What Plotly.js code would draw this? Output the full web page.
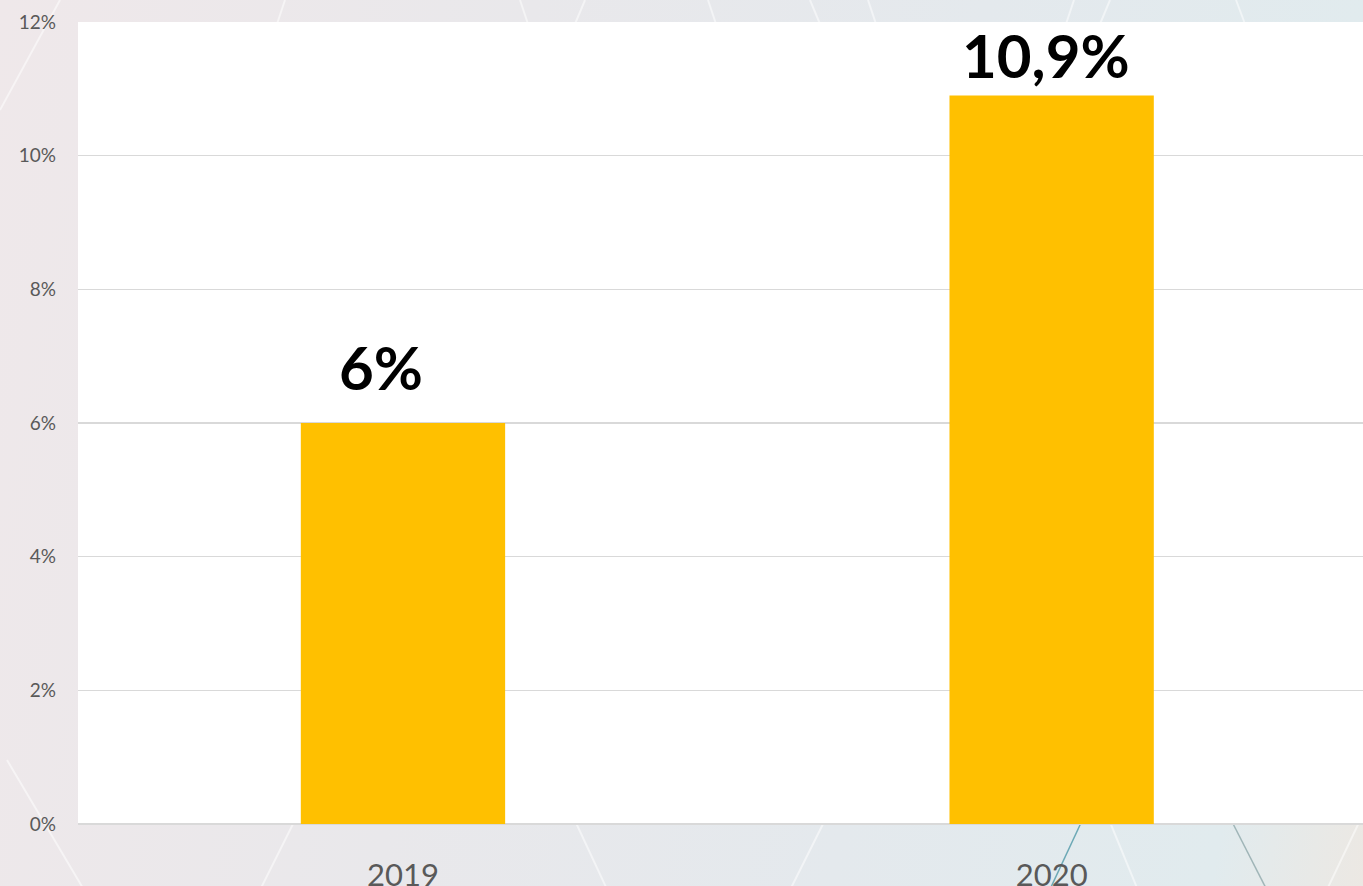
<!DOCTYPE html>
<html>
<head>
<meta charset="utf-8">
<script src="https://cdn.plot.ly/plotly-3.0.1.min.js"></script>
<style>
html,body{margin:0;padding:0;overflow:hidden;}
body{width:1363px;height:886px;position:relative;
background:linear-gradient(100deg,#efe8ea 0%,#e9e8eb 35%,#e4e9ed 65%,#e1ebee 90%,#ece8e3 100%);}
#bg{position:absolute;left:0;top:0;}
#chart{position:absolute;left:0;top:0;width:1363px;height:886px;}
</style>
</head>
<body>
<svg id="bg" width="1363" height="886" xmlns="http://www.w3.org/2000/svg">
  <g stroke="#ffffff" stroke-opacity="0.5" stroke-width="2" fill="none">
    <line x1="60" y1="0" x2="0" y2="110"/>
    <line x1="7" y1="760" x2="90" y2="900"/>
    <line x1="300" y1="810" x2="255" y2="900"/>
    <line x1="570" y1="810" x2="612" y2="900"/>
    <line x1="830" y1="810" x2="785" y2="900"/>
    <line x1="1105" y1="810" x2="1142" y2="900"/>
    <line x1="1365" y1="810" x2="1322" y2="900"/>
    <line x1="285" y1="0" x2="277" y2="24"/>
    <line x1="520" y1="0" x2="528" y2="24"/>
    <line x1="585" y1="0" x2="575" y2="24"/>
    <line x1="708" y1="0" x2="716" y2="24"/>
    <line x1="810" y1="0" x2="820" y2="24"/>
    <line x1="868" y1="0" x2="876" y2="24"/>
    <line x1="1074" y1="0" x2="1066" y2="24"/>
    <line x1="1110" y1="0" x2="1100" y2="24"/>
    <line x1="1236" y1="0" x2="1245" y2="24"/>
  </g>
  <line x1="1087" y1="810" x2="1045" y2="900" stroke="#4f98a8" stroke-opacity="0.8" stroke-width="1.5"/>
  <line x1="1226" y1="810" x2="1272" y2="900" stroke="#8fa7aa" stroke-opacity="0.8" stroke-width="1.5"/>
</svg>
<div id="chart"></div>
<script>
var categories = ["2019", "2020"];
var values = [6, 10.9];
var valueLabels = ["6%", "10,9%"];
var yTickValues = [0, 2, 4, 6, 8, 10, 12];
var yTickLabels = ["0%", "2%", "4%", "6%", "8%", "10%", "12%"];

var labelShiftX = [-22, -6];
var labelShiftY = [18, 3];

var trace = {
  type: "bar",
  x: categories,
  y: values,
  marker: {color: "#FFC000"},
  width: 0.315,
  hoverinfo: "none"
};

var annotations = categories.map(function (c, i) {
  return {
    x: i, y: values[i], xref: "x", yref: "y",
    text: "<b>" + valueLabels[i] + "</b>",
    showarrow: false,
    xanchor: "center", yanchor: "bottom",
    xshift: labelShiftX[i], yshift: labelShiftY[i],
    font: {family: "Lato, 'Open Sans', sans-serif", size: 60, color: "#000000"}
  };
});

var layout = {
  width: 1363,
  height: 886,
  margin: {l: 78, r: 0, t: 22, b: 62},
  paper_bgcolor: "rgba(0,0,0,0)",
  plot_bgcolor: "#ffffff",
  showlegend: false,
  annotations: annotations,
  xaxis: {
    type: "category",
    range: [-0.501, 1.48],
    showgrid: false,
    zeroline: false,
    showline: false,
    ticks: "",
    ticklabelstandoff: 30,
    tickfont: {family: "Lato, 'Open Sans', sans-serif", size: 31, color: "#595959"}
  },
  yaxis: {
    range: [0, 12],
    tickvals: yTickValues,
    ticktext: yTickLabels,
    showgrid: true,
    gridcolor: "#d9d9d9",
    gridwidth: 1.5,
    zeroline: true,
    zerolinecolor: "#d9d9d9",
    zerolinewidth: 1.5,
    showline: false,
    ticks: "",
    ticklabelstandoff: 21,
    tickfont: {family: "Lato, 'Open Sans', sans-serif", size: 19, color: "#595959"}
  }
};

Plotly.newPlot("chart", [trace], layout, {displayModeBar: false, staticPlot: true});
</script>
</body>
</html>
